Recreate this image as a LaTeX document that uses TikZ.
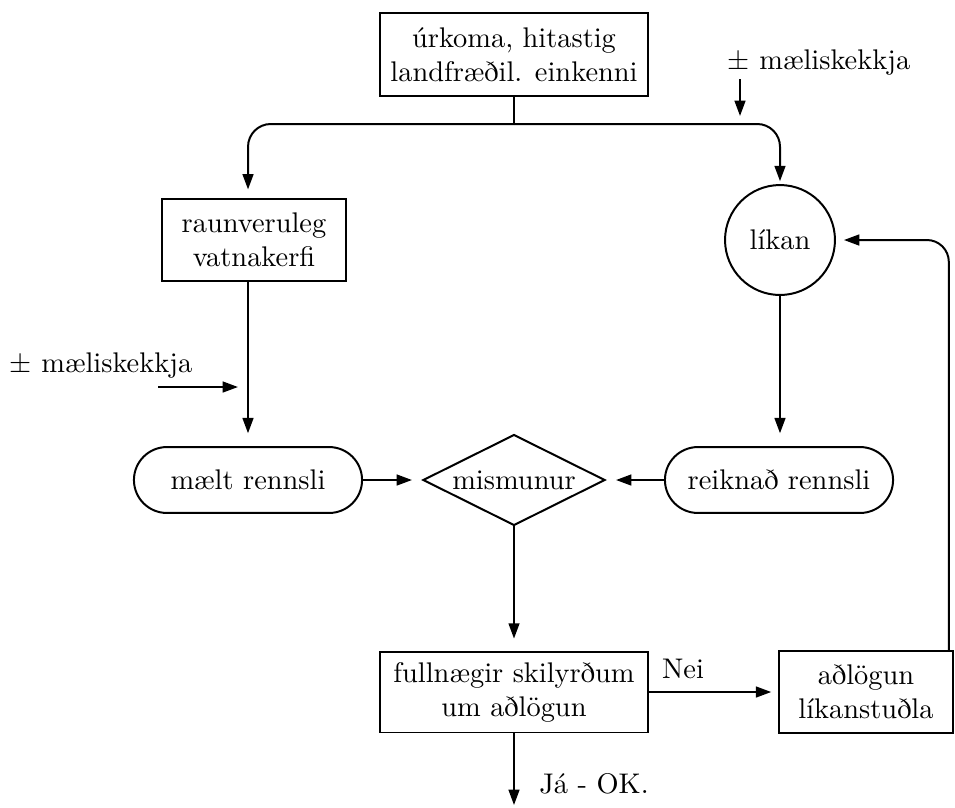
\documentclass[tikz,border=0pt]{standalone}
\usetikzlibrary{arrows.meta,shapes.geometric}
\begin{document}
\begin{tikzpicture}[x=0.352pt,y=-0.352pt,
  every node/.style={font=\normalsize},
  lw/.style={line width=0.7pt},
  box/.style={lw,draw,rectangle,inner sep=0pt,align=center},
  pill/.style={lw,draw,rectangle,rounded corners=11.6pt,inner sep=0pt,minimum width=80.3pt,minimum height=23.2pt},
  arr/.style={lw,-{Triangle[length=5.4pt,width=3.8pt]}},
  conn/.style={lw}]
\useasboundingbox (0,0) rectangle (955,807);

\node[box,minimum width=94.3pt,minimum height=29.2pt] (top) at (514,54.5) {úrkoma, hitastig\\landfræðil. einkenni};
\node[box,minimum width=64.8pt,minimum height=28.9pt] (raun) at (254,240) {raunveruleg\\vatnakerfi};
\node[lw,draw,circle,inner sep=0pt,minimum size=38.7pt] (lik) at (780,240) {líkan};
\node[pill] (malt) at (248,480) {mælt rennsli};
\node[lw,draw,diamond,aspect=2,inner sep=0pt,minimum width=64.1pt,minimum height=32pt] (mism) at (514,480) {mismunur};
\node[pill] (reikn) at (779,480) {reiknað rennsli};
\node[box,minimum width=94.3pt,minimum height=28.5pt] (full) at (514,692) {fullnægir skilyrðum\\um aðlögun};
\node[box,minimum width=61.2pt,minimum height=28.9pt] (adl) at (866,692) {aðlögun\\líkanstuðla};

\node[anchor=base] (err1) at (819,69) {$\pm$ mæliskekkja};
\node[anchor=base] (err2) at (101,372) {$\pm$ mæliskekkja};
\node (nei) at (683,669) {Nei};
\node (ja) at (594,784) {Já - OK.};

\coordinate (j) at (514,124);
\coordinate (e1a) at (740,79);
\coordinate (e1b) at (740,116);
\coordinate (e2a) at (158,387);
\coordinate (e2b) at (238,387);
\coordinate (out) at (514,805);

\draw[conn] (top.south) -- (j);
\draw[arr,rounded corners=8pt,shorten >=3pt] (j) -| ([xshift=-2.1pt]raun.north);
\draw[arr,rounded corners=8pt,shorten >=1pt] (j) -| (lik.north);
\draw[arr] (e1a) -- (e1b);
\draw[arr] (e2a) -- (e2b);
\draw[arr,shorten >=4.5pt] (raun.south -| malt.north) -- (malt.north);
\draw[arr,shorten >=4.5pt] (lik.south) -- (reikn.north -| lik.south);
\draw[arr,shorten >=3.5pt] (malt.east) -- (mism.west);
\draw[arr,shorten >=3.5pt] (reikn.west) -- (mism.east);
\draw[arr,shorten >=4.2pt] (mism.south) -- (full.north);
\draw[arr,shorten >=2.4pt] (full.east) -- (adl.west);
\draw[arr] (full.south) -- (out);
\draw[arr,rounded corners=7.7pt,shorten >=2.8pt] ([xshift=-1.8pt]adl.north east) |- (lik.east);
\end{tikzpicture}
\end{document}
